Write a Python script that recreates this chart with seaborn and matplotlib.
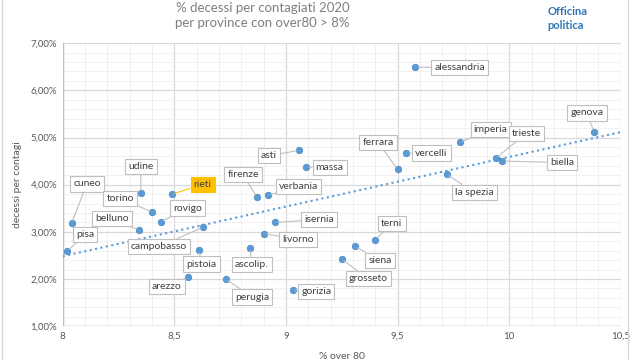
import numpy as np
import pandas as pd
import matplotlib
matplotlib.use("Agg")
import matplotlib.pyplot as plt
import seaborn as sns
from matplotlib.ticker import MultipleLocator, FuncFormatter

# === Data ===
province = ["alessandria", "genova", "imperia", "trieste", "biella", "vercelli",
            "ferrara", "la spezia", "asti", "massa", "verbania", "firenze",
            "rieti", "udine", "cuneo", "torino", "rovigo", "belluno",
            "campobasso", "pisa", "pistoia", "ascolip.", "arezzo", "perugia",
            "gorizia", "isernia", "livorno", "grosseto", "siena", "terni"]
over80 = [9.58, 10.38, 9.78, 9.94, 9.97, 9.54,
          9.50, 9.72, 9.06, 9.09, 8.92, 8.87,
          8.49, 8.35, 8.04, 8.40, 8.44, 8.34,
          8.63, 8.02, 8.61, 8.84, 8.56, 8.73,
          9.03, 8.95, 8.90, 9.25, 9.31, 9.40]
decessi = [6.49, 5.11, 4.90, 4.56, 4.50, 4.67,
           4.33, 4.22, 4.73, 4.37, 3.78, 3.74,
           3.80, 3.82, 3.19, 3.42, 3.21, 3.04,
           3.10, 2.59, 2.61, 2.66, 2.04, 2.00,
           1.77, 3.20, 2.96, 2.42, 2.69, 2.83]

# label offsets in points (layout only)
offsets = {
    "alessandria": (32, 0), "genova": (-5, 14), "imperia": (22, 9),
    "trieste": (22, 18), "biella": (43, -1), "vercelli": (18, 0),
    "ferrara": (-14, 19), "la spezia": (20, -13), "asti": (-22, -4),
    "massa": (17, 0), "verbania": (22, 6), "firenze": (-10, 16),
    "rieti": (22, 7), "udine": (0, 19), "cuneo": (11, 28),
    "torino": (-23, 10), "rovigo": (19, 10), "belluno": (-19, 8),
    "campobasso": (-32, -14), "pisa": (13, 12), "pistoia": (2, -10),
    "ascolip.": (1, -12), "arezzo": (-15, -7), "perugia": (19, -13),
    "gorizia": (17, -1), "isernia": (32, 2), "livorno": (25, -4),
    "grosseto": (19, -14), "siena": (18, -10), "terni": (12, 12),
}

df = pd.DataFrame({"provincia": province, "over80": over80, "decessi": decessi})

# === Plot ===
sns.set_style("white")
plt.rcParams["font.family"] = ["Lato", "DejaVu Sans"]
text_col = "#595959"

fig = plt.figure(figsize=(6.4, 3.6), dpi=100)
ax = fig.add_axes([0.098, 0.094, 0.872, 0.786])
ax.set_xlim(8, 10.5)
ax.set_ylim(1, 7)

ax.xaxis.set_major_locator(MultipleLocator(0.5))
ax.xaxis.set_minor_locator(MultipleLocator(0.1))
ax.yaxis.set_major_locator(MultipleLocator(1))
ax.yaxis.set_minor_locator(MultipleLocator(0.2))
ax.grid(which="major", color="#d9d9d9", linewidth=0.9)
ax.grid(which="minor", color="#efefef", linewidth=0.6)
ax.set_axisbelow(True)
for s in ax.spines.values():
    s.set_visible(False)
ax.axhline(1, color="#bfbfbf", linewidth=1, zorder=1)
ax.axvline(8, color="#bfbfbf", linewidth=1, zorder=1)

ax.xaxis.set_major_formatter(FuncFormatter(lambda v, p: f"{v:g}".replace(".", ",")))
ax.yaxis.set_major_formatter(FuncFormatter(lambda v, p: f"{v:.2f}%".replace(".", ",")))
ax.tick_params(which="both", length=0, labelsize=7, colors=text_col, pad=4)

# trend line
sns.regplot(data=df, x="over80", y="decessi", ax=ax, scatter=False, ci=None,
            truncate=False, line_kws=dict(color="#5b9bd5", linestyle=":", linewidth=1.5))

sns.scatterplot(data=df, x="over80", y="decessi", ax=ax, color="#5b9bd5",
                s=22, edgecolor="#4a86c5", linewidth=0.5, zorder=4, legend=False)

for name, x, y in zip(province, over80, decessi):
    dx, dy = offsets[name]
    hl = name == "rieti"
    ax.annotate(name, (x, y), xytext=(dx, dy), textcoords="offset points",
                ha="center", va="center", fontsize=7.5, color="#404040",
                bbox=dict(boxstyle="square,pad=0.3",
                          fc="#ffc000" if hl else "white",
                          ec="#ffc000" if hl else "#bfbfbf", lw=0.8),
                arrowprops=dict(arrowstyle="-", color="#ffc000" if hl else "#bfbfbf",
                                lw=0.8, shrinkA=0, shrinkB=2),
                zorder=5)

ax.set_xlabel("% over 80", fontsize=7.5, color=text_col, labelpad=8)
ax.set_ylabel("decessi per contagi", fontsize=7.5, color=text_col, labelpad=6)

# chart frame (left / right edges)
fig.add_artist(plt.Line2D([0.003, 0.003], [0, 1], color="#d9d9d9", lw=1,
                          transform=fig.transFigure))
fig.add_artist(plt.Line2D([0.982, 0.982], [0, 1], color="#d9d9d9", lw=1,
                          transform=fig.transFigure))

fig.text(0.41, 0.978, "% decessi per contagiati 2020", ha="center", va="center",
         fontsize=9.5, color="#7f7f7f")
fig.text(0.41, 0.936, "per province con over80 > 8%", ha="center", va="center",
         fontsize=9.5, color="#7f7f7f")
fig.text(0.855, 0.967, "Officina", ha="left", va="center", fontsize=8,
         fontweight="bold", color="#2e75b6")
fig.text(0.855, 0.928, "politica", ha="left", va="center", fontsize=8,
         fontweight="bold", color="#2e75b6")

fig.savefig("out.png", dpi=100, facecolor="white")
